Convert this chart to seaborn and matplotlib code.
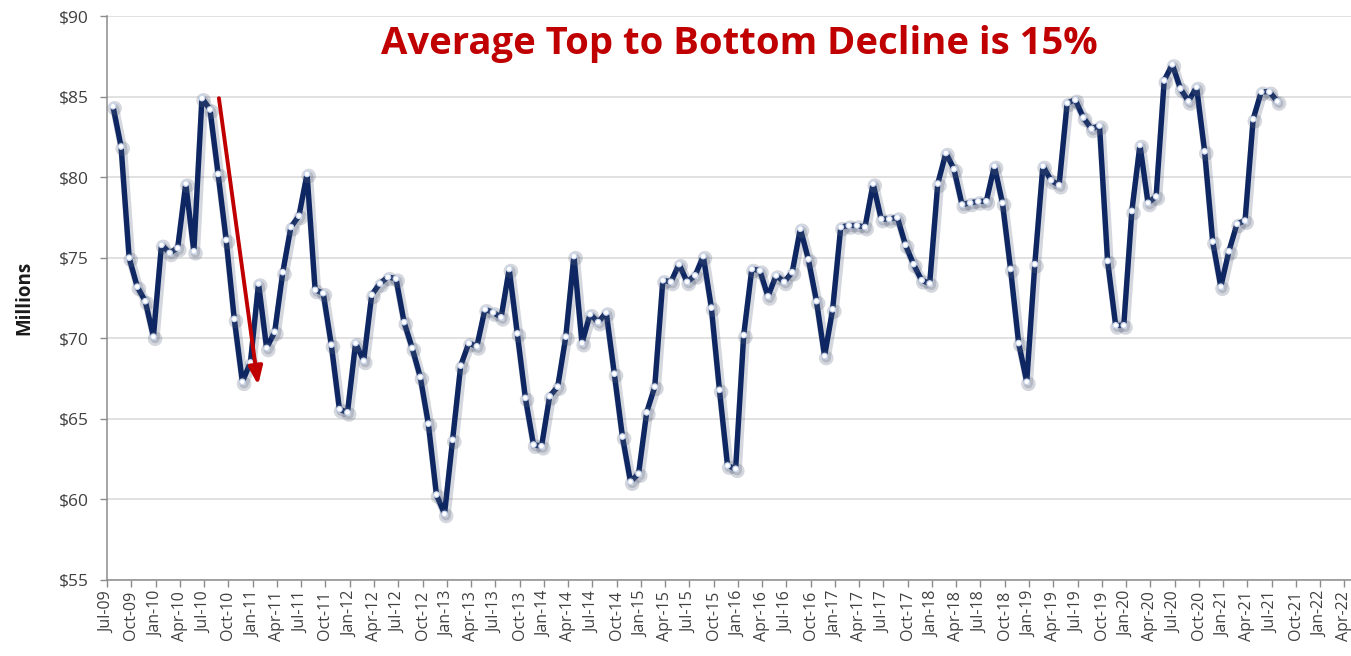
import numpy as np
import pandas as pd
import matplotlib
matplotlib.use("Agg")
import matplotlib.pyplot as plt
import matplotlib.patheffects as pe
import seaborn as sns

# Monthly value (millions of dollars), Jul-2009 through Jul-2021
values = [
    84.4, 81.9, 75.0, 73.2, 72.3, 70.1, 75.8, 75.3, 75.6, 79.6, 75.4, 84.9,
    84.2, 80.2, 76.1, 71.2, 67.3, 68.5, 73.4, 69.4, 70.4, 74.1, 76.9, 77.6,
    80.2, 73.0, 72.8, 69.6, 65.6, 65.4, 69.7, 68.6, 72.7, 73.4, 73.8, 73.7,
    71.0, 69.4, 67.6, 64.7, 60.3, 59.1, 63.7, 68.3, 69.7, 69.5, 71.8, 71.6,
    71.3, 74.3, 70.3, 66.3, 63.4, 63.3, 66.4, 67.0, 70.1, 75.1, 69.7, 71.5,
    71.0, 71.6, 67.8, 63.9, 61.1, 61.6, 65.4, 67.0, 73.6, 73.5, 74.6, 73.5,
    73.9, 75.1, 71.9, 66.8, 62.1, 61.9, 70.2, 74.3, 74.2, 72.6, 73.9, 73.5,
    74.1, 76.8, 74.9, 72.3, 68.9, 71.8, 76.9, 77.0, 77.0, 76.9, 79.6, 77.4,
    77.4, 77.5, 75.8, 74.6, 73.6, 73.4, 79.6, 81.5, 80.5, 78.3, 78.4, 78.5,
    78.5, 80.7, 78.4, 74.3, 69.7, 67.3, 74.6, 80.7, 79.8, 79.5, 84.6, 84.8,
    83.7, 83.0, 83.2, 74.8, 70.8, 70.8, 77.9, 82.0, 78.4, 78.8, 86.0, 87.0,
    85.5, 84.7, 85.6, 81.6, 76.0, 73.2, 75.4, 77.1, 77.3, 83.6, 85.3, 85.3,
    84.7,
]
start_month = "2009-07-01"
axis_end_month = "2022-04-01"
y_ticks = [55, 60, 65, 70, 75, 80, 85, 90]

title_text = "Average Top to Bottom Decline is 15%"
y_label = "Millions"

# Decline arrow: from the Aug-10 peak down to the Dec-10 trough
arrow_from = (13.1, 84.9)
arrow_to = (17.95, 67.1)

df = pd.DataFrame({"idx": np.arange(len(values)), "value": values})

axis_months = pd.date_range(start_month, axis_end_month, freq="3MS")
tick_labels = [d.strftime("%b-%y") for d in axis_months]
tick_pos = np.arange(len(axis_months)) * 3 - 0.72

sns.set_theme(style="white")
plt.rcParams["font.family"] = ["Open Sans", "DejaVu Sans"]

fig = plt.figure(figsize=(13.51, 6.56), dpi=100)
ax = fig.add_axes([0.0792, 0.1159, 0.9208, 0.8597])

navy = "#0e2762"
sns.lineplot(
    data=df, x="idx", y="value", ax=ax, color=navy, linewidth=3.9,
    marker="o", markersize=4.0, markerfacecolor="white",
    markeredgecolor="#c9d6ee", markeredgewidth=0.8, zorder=3,
    path_effects=[pe.SimpleLineShadow(offset=(1.2, -1.5), shadow_color="#55607a",
                                      alpha=0.25, linewidth=6.5), pe.Normal()],
)

ax.annotate(
    "", xy=arrow_to, xytext=arrow_from,
    arrowprops=dict(arrowstyle="-|>,head_length=0.9,head_width=0.35",
                    color="#c00000", lw=2.8, shrinkA=0, shrinkB=0),
    zorder=4,
)

ax.set_ylim(55, 90)
ax.set_xlim(-0.74, 153.1)
ax.set_yticks(y_ticks)
ax.set_yticklabels([f"${v}" for v in y_ticks], fontsize=12.5, color="#404040")
ax.set_xticks(tick_pos)
ax.set_xticklabels(tick_labels, rotation=90, fontsize=11.5, color="#404040")
ax.yaxis.grid(True, color="#d9d9d9", linewidth=1.1)
ax.xaxis.grid(False)
ax.set_axisbelow(True)

for side in ["top", "right"]:
    ax.spines[side].set_visible(False)
for side in ["left", "bottom"]:
    ax.spines[side].set_color("#8c8c8c")
    ax.spines[side].set_linewidth(1.1)
ax.tick_params(axis="both", which="major", direction="out", length=5,
               width=1, color="#8c8c8c", left=True, bottom=True)
ax.tick_params(axis="y", pad=8)
ax.tick_params(axis="x", pad=3)

ax.set_xlabel("")
ax.set_ylabel(y_label, fontsize=13.5, fontweight="bold", color="#1a1a1a", labelpad=18)

ax.text(0.508, 0.95, title_text, transform=ax.transAxes, ha="center", va="center",
        fontsize=27.5, fontweight="bold", color="#c00000")

fig.savefig("out.png", dpi=100)
